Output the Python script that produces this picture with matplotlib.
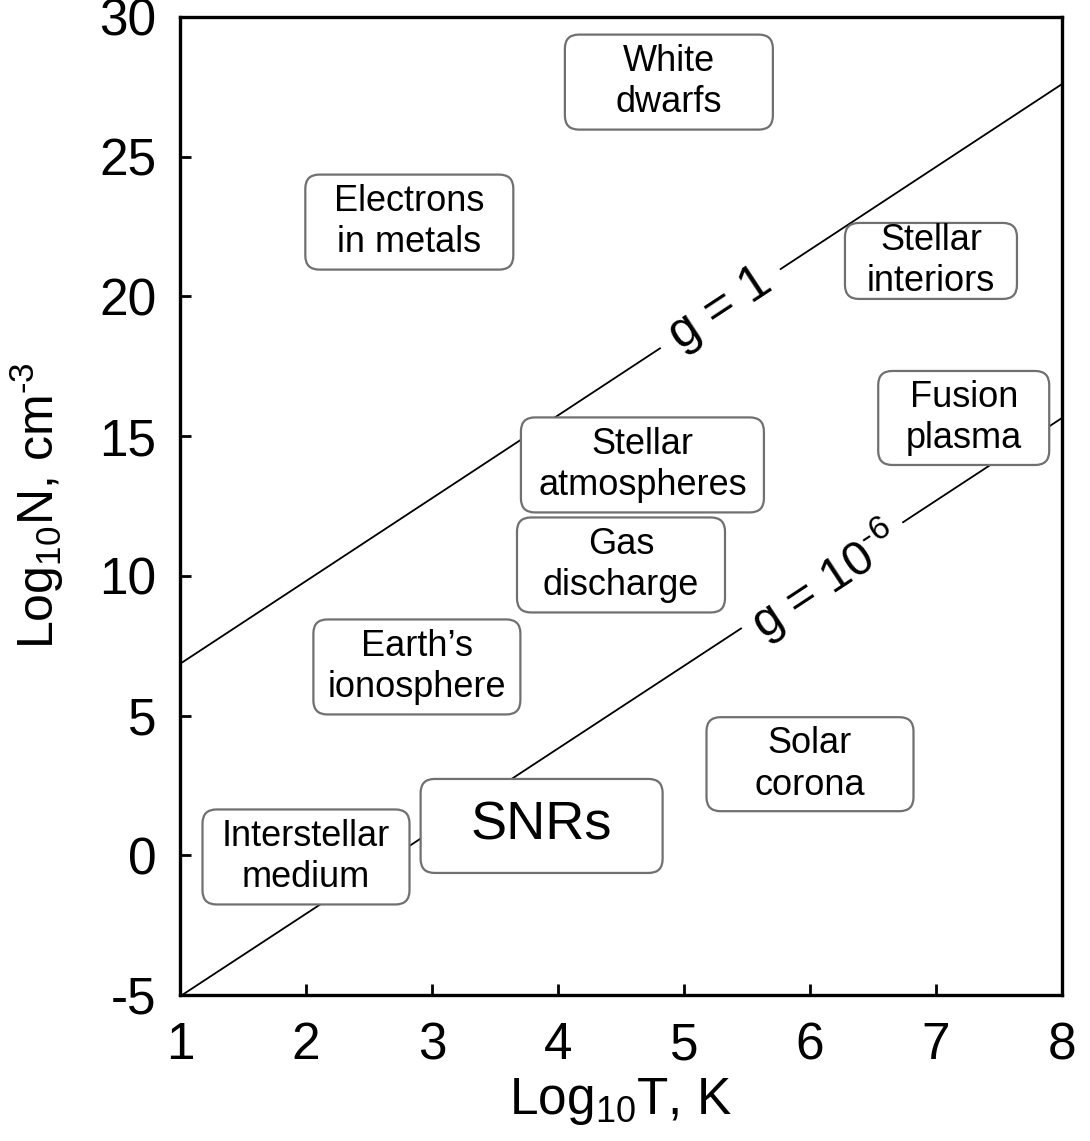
import numpy as np
import matplotlib
matplotlib.use("Agg")
import matplotlib.pyplot as plt
from matplotlib.patches import FancyBboxPatch

plt.rcParams["font.family"] = ["Liberation Sans", "DejaVu Sans"]
plt.rcParams["mathtext.fontset"] = "custom"
plt.rcParams["mathtext.rm"] = "Liberation Sans"
plt.rcParams["mathtext.default"] = "regular"
plt.rcParams["axes.unicode_minus"] = False

# ---- data ----
x_ticks = [1, 2, 3, 4, 5, 6, 7, 8]
y_ticks = [-5, 0, 5, 10, 15, 20, 25, 30]

# g = 1 and g = 1e-6 lines (log10 T, log10 N endpoints)
line_T = [1.0, 8.0]
g1_N = [6.85, 27.6]
g6_N = [-5.05, 15.65]

regions = ["White\ndwarfs", "Electrons\nin metals", "Stellar\ninteriors", "Fusion\nplasma",
           "Stellar\natmospheres", "Gas\ndischarge", "Earth\u2019s\nionosphere", "Solar\ncorona",
           "SNRs", "Interstellar\nmedium"]
region_T = [4.88, 2.82, 6.96, 7.22, 4.67, 4.50, 2.88, 6.00, 3.87, 2.00]
region_N = [27.67, 22.66, 21.27, 15.65, 13.97, 10.39, 6.74, 3.26, 1.05, -0.06]

# box sizes in pixels (width, height) and font sizes
box_w = [208, 208, 172, 171, 243, 208, 207, 207, 242, 207]
box_h = [95, 95, 76, 94, 95, 95, 95, 94, 94, 95]
box_fs = [26, 26, 26, 26, 26, 26, 26, 26, 39, 26]

# ---- figure ----
W, H = 1090, 1141
fig = plt.figure(figsize=(W / 100, H / 100), dpi=100)
L, R, B, T = 180 / W, 1062 / W, 1 - 995 / H, 1 - 17 / H
ax = fig.add_axes([L, B, R - L, T - B])
ax.set_xlim(1, 8)
ax.set_ylim(-5, 30)

px_x = (R - L) * W / 7.0      # pixels per T unit
px_y = (T - B) * H / 35.0     # pixels per N unit

ax.plot(line_T, g1_N, color="black", lw=1.3, zorder=1)
ax.plot(line_T, g6_N, color="black", lw=1.3, zorder=1)

ang = np.degrees(np.arctan2((g1_N[1] - g1_N[0]) * px_y, (line_T[1] - line_T[0]) * px_x))
ax.text(5.29, 19.55, "g = 1", fontsize=36, rotation=ang, rotation_mode="anchor",
        ha="center", va="center", zorder=2,
        bbox=dict(boxstyle="square,pad=0.3", fc="white", ec="none"))
ax.text(6.12, 9.85, r"g = 10$^{\text{-}6}$", fontsize=35, rotation=ang, rotation_mode="anchor",
        ha="center", va="center", zorder=2,
        bbox=dict(boxstyle="square,pad=0.25", fc="white", ec="none"))

aspect = px_x / px_y
for name, t, n, w, h, fs in zip(regions, region_T, region_N, box_w, box_h, box_fs):
    bw, bh = w / px_x, h / px_y
    patch = FancyBboxPatch((t - bw / 2, n - bh / 2), bw, bh,
                           boxstyle="round,pad=0,rounding_size=%f" % (14 / px_x),
                           mutation_aspect=aspect, fc="white", ec="#707070", lw=1.6, zorder=3)
    ax.add_patch(patch)
    ax.text(t, n, name, fontsize=fs, ha="center", va="center", linespacing=1.25, zorder=4)

ax.set_xticks(x_ticks)
ax.set_yticks(y_ticks)
ax.tick_params(direction="in", length=8, width=2, labelsize=37, pad=17)
ax.tick_params(axis="x", pad=19)
for s in ax.spines.values():
    s.set_linewidth(2.4)

ax.set_xlabel(r"Log$_{10}$T, K", fontsize=37, labelpad=4)
ax.set_ylabel(r"Log$_{10}$N, cm$^{\text{-}3}$", fontsize=36, labelpad=24)

fig.savefig("out.png", dpi=100)
